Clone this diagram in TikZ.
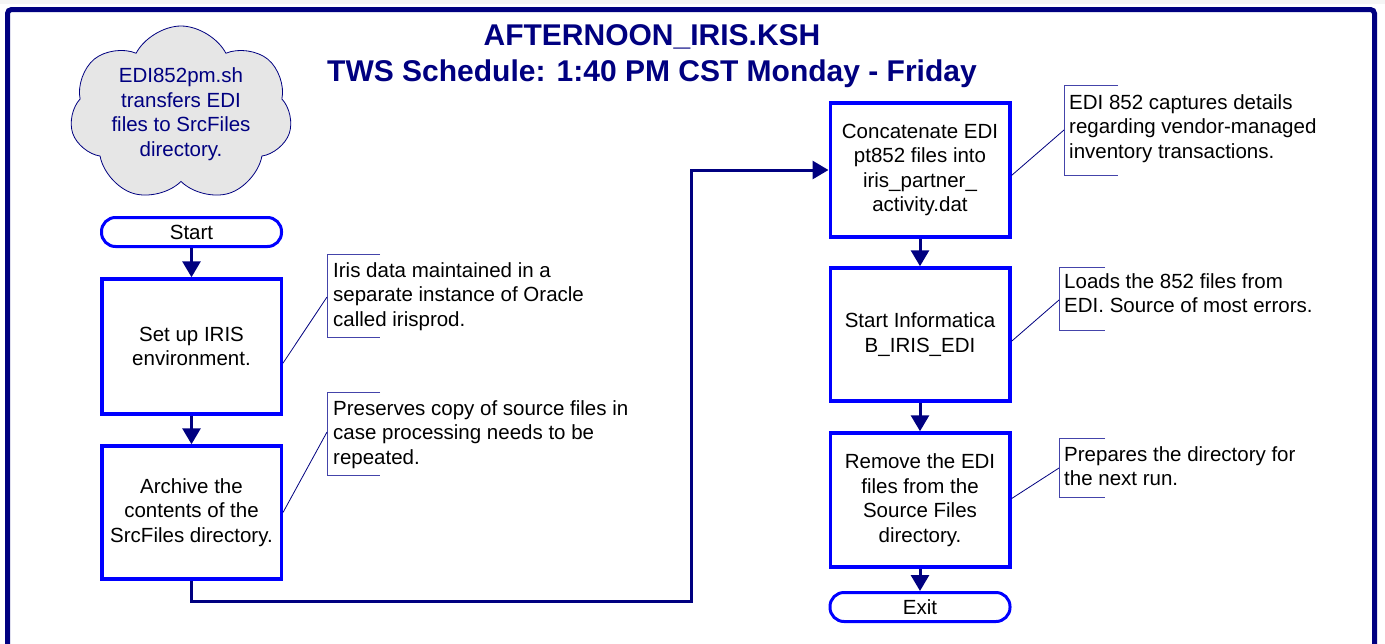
\documentclass[tikz,border=0pt]{standalone}
\usepackage{fontspec}
\setmainfont{Liberation Sans}
\usetikzlibrary{arrows.meta,shapes.symbols,calc}
\definecolor{navy}{HTML}{000080}
\definecolor{boxblue}{HTML}{0000FF}
\definecolor{brk}{HTML}{4444AA}
\definecolor{cloudgray}{HTML}{E6E6E6}
\begin{document}
\begin{tikzpicture}[x=1pt,y=-1pt,
  txt/.style={font=\fontsize{20.5}{24.6}\selectfont, align=center},
  procbox/.style={draw=boxblue, line width=3.5pt, minimum width=179.5pt, minimum height=133pt, inner sep=0pt, txt},
  term/.style={draw=boxblue, line width=3pt, rounded corners=14pt, minimum width=180pt, minimum height=29pt, inner sep=0pt, txt},
  flow/.style={draw=navy, line width=3pt, -{Triangle[width=18pt,length=16pt]}},
  note/.style={font=\fontsize{20.5}{24.8}\selectfont, align=left, anchor=north west, inner sep=0pt},
  brack/.style={draw=brk, line width=1pt},
  lead/.style={draw=navy, line width=0.8pt},
  titlefont/.style={font=\bfseries\fontsize{30}{36}\selectfont, text=navy, align=center}
]
\useasboundingbox (0,0) rectangle (1385,643);
\fill[white] (0,0) rectangle (1385,643);
\fill[gray!8] (0,0) rectangle (1385,4);
\draw[navy, line width=5pt, rounded corners=4pt] (7.5,9.5) rectangle (1374.5,720);

% title
\node[titlefont] (title) at (652,56) {AFTERNOON\_IRIS.KSH\\TWS Schedule: 1:40 PM CST Monday - Friday};

% cloud
\node[cloud, cloud puffs=7, cloud puff arc=125, cloud ignores aspect, minimum width=222pt, minimum height=176pt, draw=navy, fill=cloudgray, text=navy, txt, line width=0.8pt, inner sep=0pt, shape border rotate=10] (cloud) at (181,114) {EDI852pm.sh\\transfers EDI\\files to SrcFiles\\directory.};

% left column
\node[term] (start) at (191.5,232) {Start};
\node[procbox, minimum height=135pt] (b1) at (191.5,346.5) {Set up IRIS\\environment.};
\node[procbox, minimum height=133pt] (b2) at (191.5,512.5) {Archive the\\contents of the\\SrcFiles directory.};

% right column
\node[procbox, minimum height=134pt] (b3) at (920,170) {Concatenate EDI\\pt852 files into\\iris\_partner\_\\activity.dat};
\node[procbox, minimum height=133pt] (b4) at (920,334.5) {Start Informatica\\B\_IRIS\_EDI};
\node[procbox, minimum height=134pt] (b5) at (920,500) {Remove the EDI\\files from the\\Source Files\\directory.};
\node[term] (exit) at (920,607) {Exit};

% flow connectors
\draw[flow] (start.south) -- (b1.north);
\draw[flow] (b1.south) -- (b2.north);
\draw[flow] (b2.south) -- ($(b2.south)+(0,21)$) -| ($(b3.west)+(-137,0)$) -- (b3.west);
\draw[flow] (b3.south) -- (b4.north);
\draw[flow] (b4.south) -- (b5.north);
\draw[flow] (b5.south) -- (exit.north);

% annotations
\node[note] (n1) at (333,262) {Iris data maintained in a\\separate instance of Oracle\\called irisprod.};
\coordinate (k1) at (327,254);
\draw[brack] ($(k1)+(53,0)$) -- (k1) -- ($(k1)+(0,83)$) -- ($(k1)+(53,83)$);
\draw[lead] ($(b1.north east)!0.62!(b1.south east)$) -- ($(k1)+(0,43)$);

\node[note] (n2) at (333,400) {Preserves copy of source files in\\case processing needs to be\\repeated.};
\coordinate (k2) at (327,392);
\draw[brack] ($(k2)+(53,0)$) -- (k2) -- ($(k2)+(0,83)$) -- ($(k2)+(53,83)$);
\draw[lead] ($(b2.north east)!0.5!(b2.south east)$) -- ($(k2)+(0,40)$);

\node[note] (n3) at (1069,94) {EDI 852 captures details\\regarding vendor-managed\\inventory transactions.};
\coordinate (k3) at (1064,85);
\draw[brack] ($(k3)+(54,0)$) -- (k3) -- ($(k3)+(0,90)$) -- ($(k3)+(54,90)$);
\draw[lead] ($(b3.north east)!0.54!(b3.south east)$) -- ($(k3)+(0,45)$);

\node[note] (n4) at (1064,273) {Loads the 852 files from\\EDI. Source of most errors.};
\coordinate (k4) at (1059,267);
\draw[brack] ($(k4)+(46,0)$) -- (k4) -- ($(k4)+(0,63)$) -- ($(k4)+(46,63)$);
\draw[lead] ($(b4.north east)!0.55!(b4.south east)$) -- ($(k4)+(0,33)$);

\node[note] (n5) at (1064,446) {Prepares the directory for\\the next run.};
\coordinate (k5) at (1059,438);
\draw[brack] ($(k5)+(46,0)$) -- (k5) -- ($(k5)+(0,59)$) -- ($(k5)+(46,59)$);
\draw[lead] ($(b5.north east)!0.49!(b5.south east)$) -- ($(k5)+(0,30)$);
\end{tikzpicture}
\end{document}
